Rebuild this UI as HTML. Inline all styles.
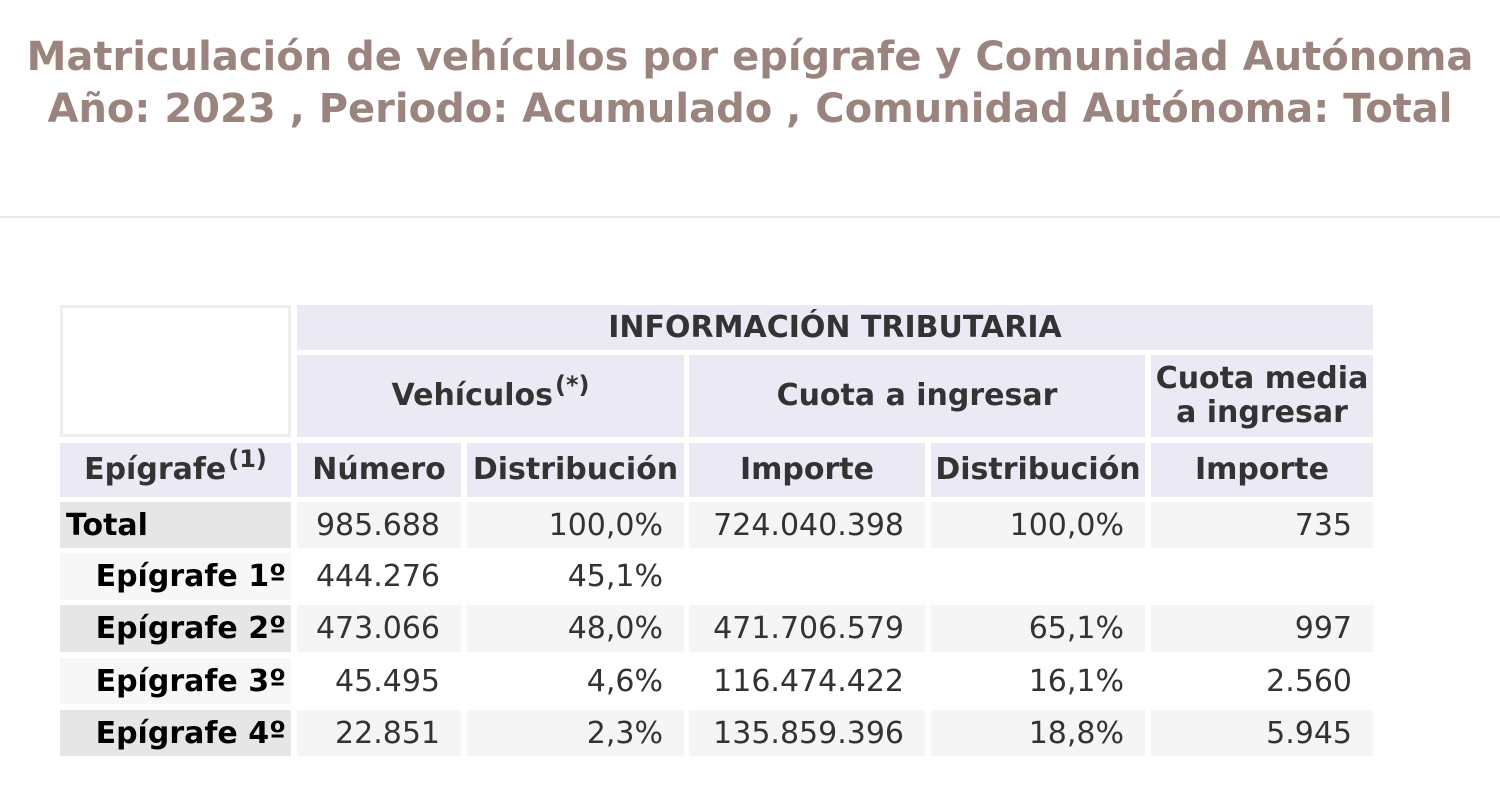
<!DOCTYPE html>
<html><head><meta charset="utf-8">
<style>
body{margin:0;width:1500px;height:807px;background:#fff;position:relative;overflow:hidden;font-family:"DejaVu Sans","Liberation Sans",sans-serif;}
.t{position:absolute;left:0;width:1500px;text-align:center;color:#9b837e;font-weight:bold;font-size:40px;white-space:nowrap;}
.c{position:absolute;box-sizing:border-box;display:flex;align-items:center;font-size:30px;white-space:nowrap;}
.h{background:#eae9f4;color:#333;font-weight:bold;justify-content:center;text-align:center;line-height:34px;}
.d{color:#333;justify-content:flex-end;padding-right:21px;}
.l{color:#000;font-weight:bold;}
.sp{font-size:24px;position:relative;top:-12px;margin-left:2px;}
</style></head><body>
<div class="t" style="top:34px">Matriculación de vehículos por epígrafe y Comunidad Autónoma</div>
<div class="t" style="top:86px">Año: 2023 , Periodo: Acumulado , Comunidad Autónoma: Total</div>
<div style="position:absolute;left:0;top:216px;width:1500px;height:2px;background:#e8e8e8"></div>
<div id="tbl"></div>
<script>
const rowLabels=["Total","Epígrafe 1º","Epígrafe 2º","Epígrafe 3º","Epígrafe 4º"];
const vehNum=["985.688","444.276","473.066","45.495","22.851"];
const vehDist=["100,0%","45,1%","48,0%","4,6%","2,3%"];
const cuotaImp=["724.040.398","","471.706.579","116.474.422","135.859.396"];
const cuotaDist=["100,0%","","65,1%","16,1%","18,8%"];
const mediaImp=["735","","997","2.560","5.945"];
const colX=[[60,291],[297,461],[467,684],[689,925],[931,1145],[1151,1373]];
const rowY=[[502,548],[553,600],[605,652],[658,704],[710,756]];
const T=document.getElementById('tbl');
function cell(cls,x0,x1,y0,y1,html,bg,name){
 const e=document.createElement('div');
 e.className='c '+cls;
 e.style.left=x0+'px';e.style.width=(x1-x0)+'px';e.style.top=y0+'px';e.style.height=(y1-y0)+'px';
 if(bg)e.style.background=bg;
 e.innerHTML=html;
 
 
 T.appendChild(e);return e;
}
const corner=cell('',60,291,305,437,'','#fff','corner-cell');corner.style.border='3px solid #eeeeee';
cell('h',297,1373,305,350,'INFORMACIÓN TRIBUTARIA',null,'header-informacion-tributaria');
cell('h',297,684,355,437,'<span>Vehículos<span class="sp">(*)</span></span>',null,'header-vehiculos');
cell('h',689,1145,355,437,'Cuota a ingresar',null,'header-cuota');
cell('h',1151,1373,355,437,'Cuota media<br>a ingresar',null,'header-cuota-media');
const sub=['<span>Epígrafe<span class="sp">(1)</span></span>','Número','Distribución','Importe','Distribución','Importe'];
sub.forEach((s,i)=>cell('h',colX[i][0],colX[i][1],443,497,s,null,'subheader-'+i));
const cols=[vehNum,vehDist,cuotaImp,cuotaDist,mediaImp];
rowLabels.forEach((lab,r)=>{
 const [y0,y1]=rowY[r];
 const lbg=(r%2==0)?'#e6e6e6':'#f7f7f7';
 const l=cell('l',60,291,y0,y1,lab,lbg,'row-label-'+r);
 if(r==0){l.style.paddingLeft='6px';}else{l.style.justifyContent='flex-end';l.style.paddingRight='5px';}
 const dbg=(r%2==0)?'#f5f5f5':'#ffffff';
 cols.forEach((arr,ci)=>cell('d',colX[ci+1][0],colX[ci+1][1],y0,y1,arr[r],dbg,'value-r'+r+'-c'+ci));
});
</script>
</body></html>
